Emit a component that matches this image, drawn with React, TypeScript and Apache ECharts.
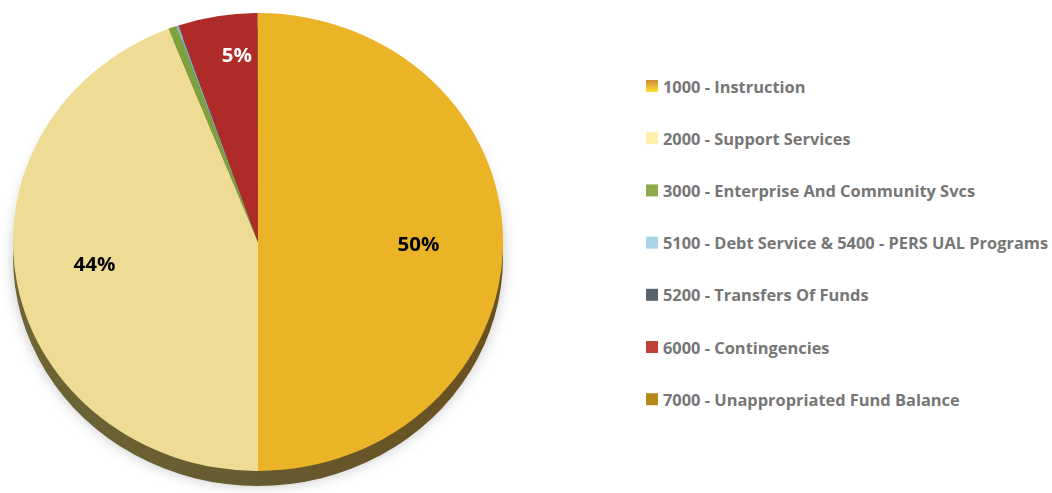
import React, { useEffect, useRef } from 'react';
import * as echarts from 'echarts';

const categories = [
  '1000 - Instruction',
  '2000 - Support Services',
  '3000 - Enterprise And Community Svcs',
  '5100 - Debt Service & 5400 - PERS UAL Programs',
  '5200 - Transfers Of Funds',
  '6000 - Contingencies',
  '7000 - Unappropriated Fund Balance',
];
const values = [50.0, 44.05, 0.55, 0.12, 0.02, 5.24, 0.02];

const sliceColors = ['#EBB426', '#EEDC95', '#7FA03A', '#79B3D1', '#4F5A63', '#AE2B27', '#B08818'];
const legendColors = ['#F2B83A', '#FFF0A8', '#8FAA4A', '#A8D3E8', '#56636C', '#C0413A', '#B38A1A'];
const labelColors = ['#000000', '#000000', '#000000', '#000000', '#000000', '#FFFFFF', '#000000'];
const labelRadiusFactor = [1.31, 1.35, 1, 1, 1, 1.65, 1];
const labelNudge = [[-4, 2], [3, -8], [0, 0], [0, 0], [0, 0], [13, 4], [0, 0]];

const SCALE_Y = 229 / 245;
const CX = 258;
const CY = 242 / SCALE_Y;
const R = 245;
const DEPTH = 15 / SCALE_Y;

export default function App() {
  const pieRef = useRef<HTMLDivElement>(null);
  const legRef = useRef<HTMLDivElement>(null);

  useEffect(() => {
    const pie = echarts.init(pieRef.current!, null, { renderer: 'svg' });
    pie.setOption({
      animation: false,
      graphic: [
        {
          type: 'circle',
          z: 0,
          shape: { cx: CX, cy: CY + DEPTH, r: R },
          style: {
            fill: new echarts.graphic.LinearGradient(0, 0, 1, 0, [
              { offset: 0, color: '#6E6636' },
              { offset: 0.5, color: '#665A30' },
              { offset: 1, color: '#6A5020' },
            ]),
            shadowBlur: 14,
            shadowColor: 'rgba(0,0,0,0.22)',
          },
        },
      ],
      series: [
        {
          type: 'pie',
          z: 5,
          center: [CX, CY],
          radius: [0, R],
          startAngle: 90,
          clockwise: true,
          silent: true,
          itemStyle: { borderWidth: 0 },
          label: {
            show: true,
            position: 'inside',
            fontFamily: 'Open Sans',
            fontWeight: 'bold',
            fontSize: 20.5,
            formatter: (p: any) => (p.percent >= 1 ? Math.round(p.percent) + '%' : ''),
          },
          labelLine: { show: false },
          labelLayout: (p: any) => {
            const k = labelRadiusFactor[p.dataIndex] ?? 1;
            const n = labelNudge[p.dataIndex] ?? [0, 0];
            const lx = p.labelRect.x + p.labelRect.width / 2;
            const ly = p.labelRect.y + p.labelRect.height / 2;
            return { x: CX + (lx - CX) * k + n[0], y: CY + (ly - CY) * k + n[1] / SCALE_Y };
          },
          data: categories.map((name, i) => ({
            name,
            value: values[i],
            itemStyle: { color: sliceColors[i] },
            label: { color: labelColors[i] },
          })),
        },
      ],
    });

    const leg = echarts.init(legRef.current!, null, { renderer: 'svg' });
    const instructionGrad = new echarts.graphic.LinearGradient(0, 0, 0, 1, [
      { offset: 0, color: '#D08A3A' },
      { offset: 1, color: '#FFE033' },
    ]);
    leg.setOption({
      animation: false,
      legend: {
        orient: 'vertical',
        left: 641,
        top: 71,
        itemWidth: 12,
        itemHeight: 12,
        itemGap: 32.2,
        icon: 'rect',
        selectedMode: false,
        textStyle: {
          color: '#767676',
          fontSize: 16.4,
          fontWeight: 'bold',
          fontFamily: 'Open Sans',
          lineHeight: 20,
        },
        data: categories.map((name, i) => ({
          name,
          itemStyle: { color: i === 0 ? instructionGrad : legendColors[i] },
        })),
      },
      series: [
        {
          type: 'pie',
          center: [-200, -200],
          radius: [0, 1],
          silent: true,
          label: { show: false },
          labelLine: { show: false },
          data: categories.map((name, i) => ({
            name,
            value: values[i],
            itemStyle: { color: legendColors[i] },
          })),
        },
      ],
    });

    return () => {
      pie.dispose();
      leg.dispose();
    };
  }, []);

  return (
    <div
      style={{
        position: 'fixed',
        left: 0,
        top: 0,
        width: 1052,
        height: 493,
        background: '#ffffff',
        overflow: 'hidden',
      }}
    >
      <div
        ref={pieRef}
        style={{
          position: 'absolute',
          left: 0,
          top: 0,
          width: 600,
          height: Math.ceil(493 / SCALE_Y),
          transform: `scaleY(${SCALE_Y})`,
          transformOrigin: '0 0',
        }}
      />
      <div
        ref={legRef}
        style={{ position: 'absolute', left: 0, top: 0, width: 1052, height: 493 }}
      />
    </div>
  );
}
